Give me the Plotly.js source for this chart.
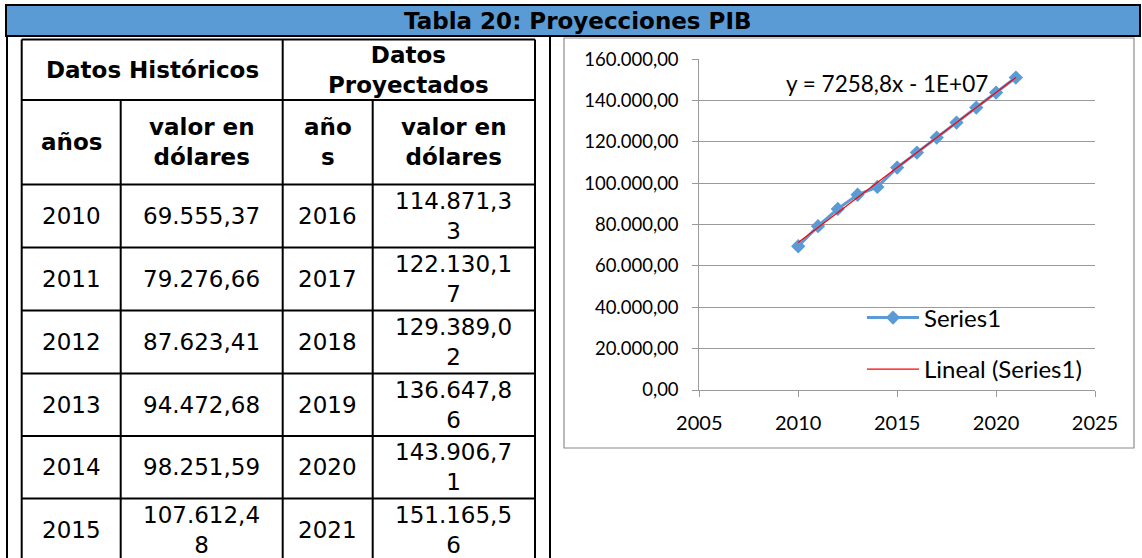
<!DOCTYPE html>
<html>
<head>
<meta charset="utf-8">
<script src="https://cdn.plot.ly/plotly-3.0.1.min.js"></script>
<style>
  html, body { margin: 0; padding: 0; background: #ffffff; }
  #chart { width: 1142px; height: 558px; }
</style>
</head>
<body>
<div id="chart"></div>
<script>
// ---------------- DATA ----------------
const titleText = 'Tabla 20: Proyecciones PIB';
const groupHeaders = ['Datos Históricos', 'Datos<br>Proyectados'];
const colHeaders = ['años', 'valor en<br>dólares', 'año<br>s', 'valor en<br>dólares'];

const histYears = [2010, 2011, 2012, 2013, 2014, 2015];
const histValues = [69555.37, 79276.66, 87623.41, 94472.68, 98251.59, 107612.48];
const projYears = [2016, 2017, 2018, 2019, 2020, 2021];
const projValues = [114871.33, 122130.17, 129389.02, 136647.86, 143906.71, 151165.56];

const seriesName = 'Series1';
const trendName = 'Lineal (Series1)';
const equationText = 'y = 7258,8x - 1E+07';

const xTickVals = [2005, 2010, 2015, 2020, 2025];
const yTickVals = [0, 20000, 40000, 60000, 80000, 100000, 120000, 140000, 160000];

// ---------------- GEOMETRY / STYLE ----------------
const W = 1142, H = 558;
const px = x => x / W;
const py = y => 1 - y / H;

const BLUE = '#5B9BD5';
const GRID = '#9a9a9a';
const tableFont = 'DejaVu Sans, sans-serif';
const chartFont = 'Lato, sans-serif';

const colEdges = [21.7, 120.7, 282.7, 372.7, 535];
const rowEdges = [39.5, 100, 184.5, 247.5, 310.5, 373.5, 436, 498.5, 561];

function fmtEs(v) {
  const parts = v.toFixed(2).split('.');
  const intPart = parts[0].replace(/\B(?=(\d{3})+(?!\d))/g, '.');
  return intPart + ',' + parts[1];
}
// Word-style wrapping of text that does not fit the narrow cell
function wrapCell(s, maxChars) {
  return s.length > maxChars ? s.slice(0, maxChars) + '<br>' + s.slice(maxChars) : s;
}

// ---------------- SHAPES ----------------
const shapes = [];
const blk = {color: '#000000', width: 2};
function hline(y, x0, x1, line) {
  shapes.push({type: 'line', xref: 'paper', yref: 'paper', x0: px(x0), x1: px(x1), y0: py(y), y1: py(y), line: line || blk, layer: 'above'});
}
function vline(x, y0, y1, line) {
  shapes.push({type: 'line', xref: 'paper', yref: 'paper', x0: px(x), x1: px(x), y0: py(y0), y1: py(y1), line: line || blk, layer: 'above'});
}
// title bar
shapes.push({type: 'rect', xref: 'paper', yref: 'paper', x0: px(6), x1: px(1140), y0: py(36), y1: py(5),
  fillcolor: BLUE, line: {color: '#000000', width: 2}, layer: 'below'});
// outer cell borders
vline(7, 36, 560);
vline(550, 36, 560);
// inner table
rowEdges.forEach(y => hline(y, colEdges[0], colEdges[4]));
vline(colEdges[0], rowEdges[0], 560);
vline(colEdges[2], rowEdges[0], 560);
vline(colEdges[4], rowEdges[0], 560);
vline(colEdges[1], rowEdges[1], 560);
vline(colEdges[3], rowEdges[1], 560);
// chart frame
shapes.push({type: 'rect', xref: 'paper', yref: 'paper', x0: px(564), x1: px(1134), y0: py(448), y1: py(38),
  line: {color: '#8c8c8c', width: 1.2}, fillcolor: 'rgba(0,0,0,0)', layer: 'below'});

// ---------------- ANNOTATIONS ----------------
const annotations = [];
function addText(text, x, y, bold, font, size) {
  annotations.push({
    text: bold ? '<b>' + text + '</b>' : text,
    xref: 'paper', yref: 'paper', x: px(x), y: py(y),
    xanchor: 'center', yanchor: 'middle', align: 'center', showarrow: false,
    font: {family: font || tableFont, size: size || 23, color: '#000000'}
  });
}
const midX = (a, b) => (colEdges[a] + colEdges[b]) / 2;
const midY = (a, b) => (rowEdges[a] + rowEdges[b]) / 2;

addText(titleText, 578, 20.5, true);
addText(groupHeaders[0], midX(0, 2), midY(0, 1), true);
addText(groupHeaders[1], midX(2, 4), midY(0, 1), true);
colHeaders.forEach((t, i) => addText(t, midX(i, i + 1), midY(1, 2), true));

histYears.forEach((yr, i) => {
  const r = 2 + i;
  addText(String(yr), midX(0, 1), midY(r, r + 1), false);
  addText(wrapCell(fmtEs(histValues[i]), 9), midX(1, 2), midY(r, r + 1), false);
  addText(String(projYears[i]), midX(2, 3), midY(r, r + 1), false);
  addText(wrapCell(fmtEs(projValues[i]), 9), midX(3, 4), midY(r, r + 1), false);
});

// trendline equation label
addText(equationText, 886.5, 84, false, chartFont, 22.5);

// ---------------- TRACES ----------------
const allYears = histYears.concat(projYears);
const allValues = histValues.concat(projValues);

// least-squares linear trendline from the data
const n = allYears.length;
const mx = allYears.reduce((a, b) => a + b, 0) / n;
const my = allValues.reduce((a, b) => a + b, 0) / n;
let sxy = 0, sxx = 0;
for (let i = 0; i < n; i++) { sxy += (allYears[i] - mx) * (allValues[i] - my); sxx += (allYears[i] - mx) ** 2; }
const slope = sxy / sxx, intercept = my - slope * mx;
const trendX = [allYears[0], allYears[n - 1]];
const trendY = trendX.map(x => slope * x + intercept);

const traces = [
  {
    x: allYears, y: allValues, name: seriesName, type: 'scatter', mode: 'lines+markers',
    line: {color: BLUE, width: 3},
    marker: {symbol: 'diamond', size: 11, color: BLUE},
    legend: 'legend', hoverinfo: 'x+y'
  },
  {
    x: trendX, y: trendY, name: trendName, type: 'scatter', mode: 'lines',
    line: {color: '#FF0000', width: 1.2},
    legend: 'legend2', hoverinfo: 'skip'
  }
];

const legendBase = {
  xref: 'paper', yref: 'paper', xanchor: 'left', yanchor: 'middle',
  bgcolor: 'rgba(0,0,0,0)', borderwidth: 0, itemwidth: 52,
  font: {family: chartFont, size: 24, color: '#000000'}
};

const layout = {
  width: W, height: H,
  margin: {l: 0, r: 0, t: 0, b: 0, pad: 0},
  paper_bgcolor: '#ffffff', plot_bgcolor: 'rgba(0,0,0,0)',
  separators: ',.',
  showlegend: true,
  legend: Object.assign({}, legendBase, {x: px(862), y: py(318)}),
  legend2: Object.assign({}, legendBase, {x: px(862), y: py(369.5)}),
  xaxis: {
    domain: [px(699.3), px(1095)], range: [2005, 2025],
    tickmode: 'array', tickvals: xTickVals, tickformat: 'd',
    showgrid: false, zeroline: false,
    showline: true, linecolor: GRID, linewidth: 1,
    ticks: 'outside', ticklen: 6, tickcolor: GRID, tickwidth: 1,
    ticklabelstandoff: 9,
    tickfont: {family: chartFont, size: 20, color: '#000000'},
    fixedrange: true
  },
  yaxis: {
    domain: [py(390), py(59.3)], range: [0, 160000],
    tickmode: 'array', tickvals: yTickVals, tickformat: ',.2f',
    showgrid: true, gridcolor: GRID, gridwidth: 1, zeroline: false,
    showline: true, linecolor: GRID, linewidth: 1,
    ticks: 'outside', ticklen: 6, tickcolor: GRID, tickwidth: 1,
    ticklabelstandoff: 10,
    tickfont: {family: chartFont, size: 18.5, color: '#000000'},
    fixedrange: true
  },
  shapes: shapes,
  annotations: annotations
};

Plotly.newPlot('chart', traces, layout, {displayModeBar: false, staticPlot: true});
</script>
</body>
</html>
